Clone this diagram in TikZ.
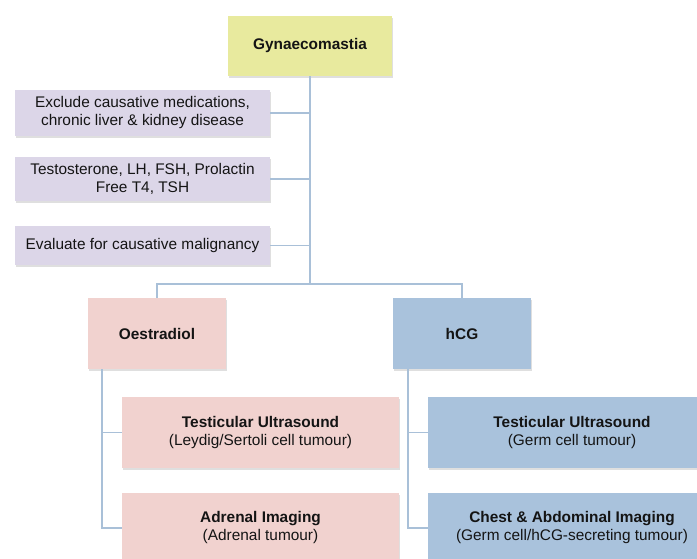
\documentclass[tikz,border=0pt]{standalone}
\usepackage{fontspec}
\setmainfont{Liberation Sans}
\usetikzlibrary{shadows}
\definecolor{gynfill}{HTML}{E8EA9E}
\definecolor{stepfill}{HTML}{DCD6E8}
\definecolor{oestfill}{HTML}{F1D2CF}
\definecolor{hcgfill}{HTML}{A9C2DC}
\definecolor{linkcol}{HTML}{A9C0D8}
\begin{document}
\begin{tikzpicture}[x=1pt, y=-1pt,
    box/.style={inner sep=2pt, align=center, text=black!92,
      font=\fontsize{15.4}{18}\selectfont,
      drop shadow={shadow xshift=1pt, shadow yshift=-1.5pt, opacity=0.25}},
    link/.style={draw=linkcol, line width=1.8pt}]
  \clip (0,0) rectangle (697,558);
  \fill[white] (0,0) rectangle (697,558);

  % Top box and work-up steps
  \node[box, fill=gynfill, minimum width=164, minimum height=60, font=\fontsize{15.4}{18}\selectfont\bfseries] (gyn) at (310,46) {Gynaecomastia};
  \node[box, fill=stepfill, minimum width=255, minimum height=46] (excl) at (142.5,113) {Exclude causative medications,\\ chronic liver \& kidney disease};
  \node[box, fill=stepfill, minimum width=255, minimum height=44] (horm) at (142.5,179) {Testosterone, LH, FSH, Prolactin\\ Free T4, TSH};
  \node[box, fill=stepfill, minimum width=255, minimum height=39] (eval) at (142.5,245.5) {Evaluate for causative malignancy};

  % Second level
  \node[box, fill=oestfill, minimum width=138, minimum height=71, font=\fontsize{15.4}{18}\selectfont\bfseries] (oest) at (157,333.5) {Oestradiol};
  \node[box, fill=hcgfill, minimum width=138, minimum height=71, font=\fontsize{15.4}{18}\selectfont\bfseries] (hcg) at (462,333.5) {hCG};

  % Imaging boxes
  \node[box, fill=oestfill, minimum width=277, minimum height=71] (otu) at (260.5,432.5) {\textbf{Testicular Ultrasound}\\ (Leydig/Sertoli cell tumour)};
  \node[box, fill=oestfill, minimum width=277, minimum height=70] (oai) at (260.5,528) {\textbf{Adrenal Imaging}\\ (Adrenal tumour)};
  \node[box, fill=hcgfill, minimum width=288, minimum height=71] (htu) at (572,432.5) {\textbf{Testicular Ultrasound}\\ (Germ cell tumour)};
  \node[box, fill=hcgfill, minimum width=288, minimum height=70] (hai) at (572,528) {\textbf{Chest \& Abdominal Imaging}\\ (Germ cell/hCG-secreting tumour)};

  % Connectors
  \coordinate (bar) at (310,284);
  \draw[link] (gyn.south) -- (bar);
  \foreach \n in {excl,horm,eval}
    \draw[link] (\n.east) -- (\n.east -| bar);
  \draw[link] (oest.north) |- (bar) -| (hcg.north);

  \coordinate (otop) at (102,369);
  \coordinate (htop) at (408,369);
  \draw[link] (otop) |- (oai.west);
  \draw[link] (otop |- otu.west) -- (otu.west);
  \draw[link] (htop) |- (hai.west);
  \draw[link] (htop |- htu.west) -- (htu.west);
\end{tikzpicture}
\end{document}
